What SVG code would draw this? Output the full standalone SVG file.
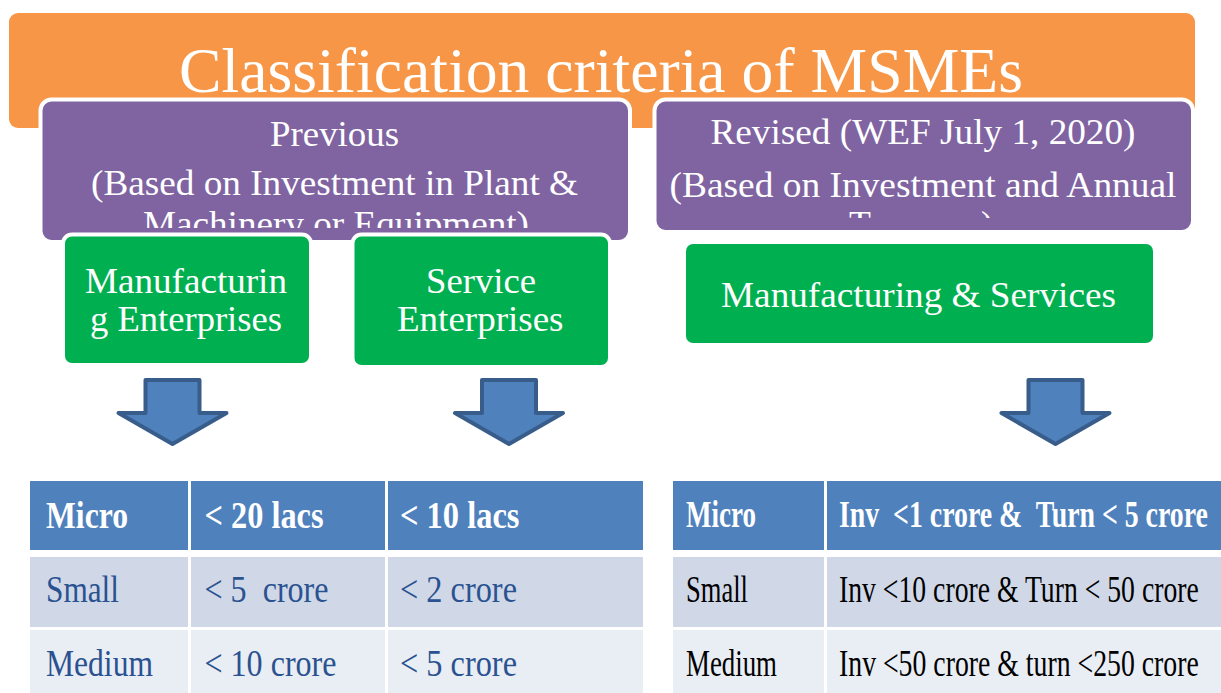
<svg xmlns="http://www.w3.org/2000/svg" width="1221" height="693" viewBox="0 0 1221 693">
  <style>
    text { font-family: "Liberation Serif", "Times New Roman", serif; }
    .title { font-size: 64px; fill: #FFFFFF; }
    .head { font-size: 36px; fill: #FFFFFF; }
    .lbl { font-size: 36px; fill: #FFFFFF; }
    .purple { fill: #8064A2; stroke: #FFFFFF; stroke-width: 4; }
    .green { fill: #00B050; stroke: #FFFFFF; stroke-width: 4; }
    .arrow { fill: #4F81BD; stroke: #385D8A; stroke-width: 4; stroke-linejoin: round; }
    .th { fill: #4F81BD; }
    .r1 { fill: #D0D8E8; }
    .r2 { fill: #E9EDF4; }
    .cellh { font-size: 38px; font-weight: bold; fill: #FFFFFF; white-space: pre; }
    .cellb { font-size: 38px; fill: #2A5290; white-space: pre; }
    .cellk { font-size: 38px; fill: #000000; white-space: pre; }
  </style>
  <defs>
    <clipPath id="clipPrev"><rect x="42" y="101" width="587" height="127"/></clipPath>
    <clipPath id="clipRev"><rect x="656" y="101" width="535" height="117"/></clipPath>
  </defs>

  <rect width="1221" height="693" fill="#FFFFFF"/>

  <!-- title banner -->
  <g id="title">
    <rect x="9" y="13" width="1186" height="115" rx="9" fill="#F79646"/>
    <text class="title" x="179" y="92" textLength="844" lengthAdjust="spacingAndGlyphs">Classification criteria of MSMEs</text>
  </g>

  <!-- previous criteria header -->
  <g id="previous">
    <rect class="purple" x="40.5" y="99.5" width="589.5" height="142.5" rx="11"/>
    <text class="head" x="334.5" y="146" text-anchor="middle" textLength="129" lengthAdjust="spacingAndGlyphs">Previous</text>
    <text class="head" x="334.5" y="195" text-anchor="middle" textLength="487" lengthAdjust="spacingAndGlyphs">(Based on Investment in Plant &amp;</text>
    <text class="head" x="336" y="236" text-anchor="middle" textLength="386" lengthAdjust="spacingAndGlyphs" clip-path="url(#clipPrev)">Machinery or Equipment)</text>
  </g>

  <!-- revised criteria header -->
  <g id="revised">
    <rect class="purple" x="654.5" y="99.5" width="538.5" height="132.5" rx="11"/>
    <text class="head" x="923" y="144" text-anchor="middle" textLength="425" lengthAdjust="spacingAndGlyphs">Revised (WEF July 1, 2020)</text>
    <text class="head" x="923" y="197" text-anchor="middle" textLength="507" lengthAdjust="spacingAndGlyphs">(Based on Investment and Annual</text>
    <text class="head" x="921" y="236" text-anchor="middle" textLength="144" lengthAdjust="spacingAndGlyphs" clip-path="url(#clipRev)">Turnover)</text>
  </g>

  <!-- enterprise categories -->
  <g id="manufacturing">
    <rect class="green" x="63" y="234.5" width="248" height="130.5" rx="9"/>
    <text class="lbl" x="85" y="293" textLength="202" lengthAdjust="spacingAndGlyphs">Manufacturin</text>
    <text class="lbl" x="90" y="331" textLength="192" lengthAdjust="spacingAndGlyphs">g Enterprises</text>
  </g>
  <g id="service">
    <rect class="green" x="352.5" y="234.5" width="257.5" height="132.5" rx="9"/>
    <text class="lbl" x="426" y="293" textLength="110" lengthAdjust="spacingAndGlyphs">Service</text>
    <text class="lbl" x="397" y="331" textLength="166.5" lengthAdjust="spacingAndGlyphs">Enterprises</text>
  </g>
  <g id="mfg-services">
    <rect x="686" y="244" width="467" height="99" rx="7" fill="#00B050"/>
    <text class="lbl" x="721" y="307" font-size="37" textLength="395" lengthAdjust="spacingAndGlyphs">Manufacturing &amp; Services</text>
  </g>

  <!-- down arrows -->
  <g id="connectors">
    <path class="arrow" d="M145.5,380 H199.5 V413 H226.5 L172.5,444 L118.5,413 H145.5 Z"/>
    <path class="arrow" d="M482,380 H536 V413 H563 L509,444 L455,413 H482 Z"/>
    <path class="arrow" d="M1028.5,380 H1082.5 V413 H1109.5 L1055.5,444 L1001.5,413 H1028.5 Z"/>
  </g>

  <!-- previous limits table -->
  <g id="table-previous">
    <rect class="th" x="30" y="481" width="158" height="69"/>
    <rect class="th" x="191" y="481" width="194" height="69"/>
    <rect class="th" x="388" y="481" width="255" height="69"/>
    <rect class="r1" x="30" y="557" width="158" height="70"/>
    <rect class="r1" x="191" y="557" width="194" height="70"/>
    <rect class="r1" x="388" y="557" width="255" height="70"/>
    <rect class="r2" x="30" y="630" width="158" height="63"/>
    <rect class="r2" x="191" y="630" width="194" height="63"/>
    <rect class="r2" x="388" y="630" width="255" height="63"/>
    <text class="cellh" x="46" y="528" textLength="82" lengthAdjust="spacingAndGlyphs">Micro</text>
    <text class="cellh" x="204.5" y="528" textLength="119" lengthAdjust="spacingAndGlyphs">&lt; 20 lacs</text>
    <text class="cellh" x="400" y="528" textLength="119.5" lengthAdjust="spacingAndGlyphs">&lt; 10 lacs</text>
    <text class="cellb" x="46" y="602" textLength="73" lengthAdjust="spacingAndGlyphs">Small</text>
    <text class="cellb" x="204.5" y="602" textLength="124" lengthAdjust="spacingAndGlyphs">&lt; 5  crore</text>
    <text class="cellb" x="400" y="602" textLength="117" lengthAdjust="spacingAndGlyphs">&lt; 2 crore</text>
    <text class="cellb" x="46" y="676" textLength="107" lengthAdjust="spacingAndGlyphs">Medium</text>
    <text class="cellb" x="204.5" y="676" textLength="132" lengthAdjust="spacingAndGlyphs">&lt; 10 crore</text>
    <text class="cellb" x="400" y="676" textLength="117" lengthAdjust="spacingAndGlyphs">&lt; 5 crore</text>
  </g>

  <!-- revised limits table; the long limits are drawn in a narrowed frame -->
  <g id="table-revised">
    <rect class="th" x="673" y="481" width="151" height="69"/>
    <rect class="th" x="827" y="481" width="394" height="69"/>
    <rect class="r1" x="673" y="557" width="151" height="70"/>
    <rect class="r1" x="827" y="557" width="394" height="70"/>
    <rect class="r2" x="673" y="630" width="151" height="63"/>
    <rect class="r2" x="827" y="630" width="394" height="63"/>
    <text class="cellh" x="686" y="527" textLength="70" lengthAdjust="spacingAndGlyphs">Micro</text>
    <text class="cellh" transform="translate(839,527) scale(0.7,1)" x="0" y="0" textLength="527" lengthAdjust="spacingAndGlyphs">Inv  &lt;1 crore &amp;  Turn &lt; 5 crore</text>
    <text class="cellk" x="686" y="602" textLength="62" lengthAdjust="spacingAndGlyphs">Small</text>
    <text class="cellk" transform="translate(839,602) scale(0.7,1)" x="0" y="0" textLength="514" lengthAdjust="spacingAndGlyphs">Inv &lt;10 crore &amp; Turn &lt; 50 crore</text>
    <text class="cellk" x="686" y="676" textLength="91" lengthAdjust="spacingAndGlyphs">Medium</text>
    <text class="cellk" transform="translate(839,676) scale(0.7,1)" x="0" y="0" textLength="514" lengthAdjust="spacingAndGlyphs">Inv &lt;50 crore &amp; turn &lt;250 crore</text>
  </g>
</svg>
